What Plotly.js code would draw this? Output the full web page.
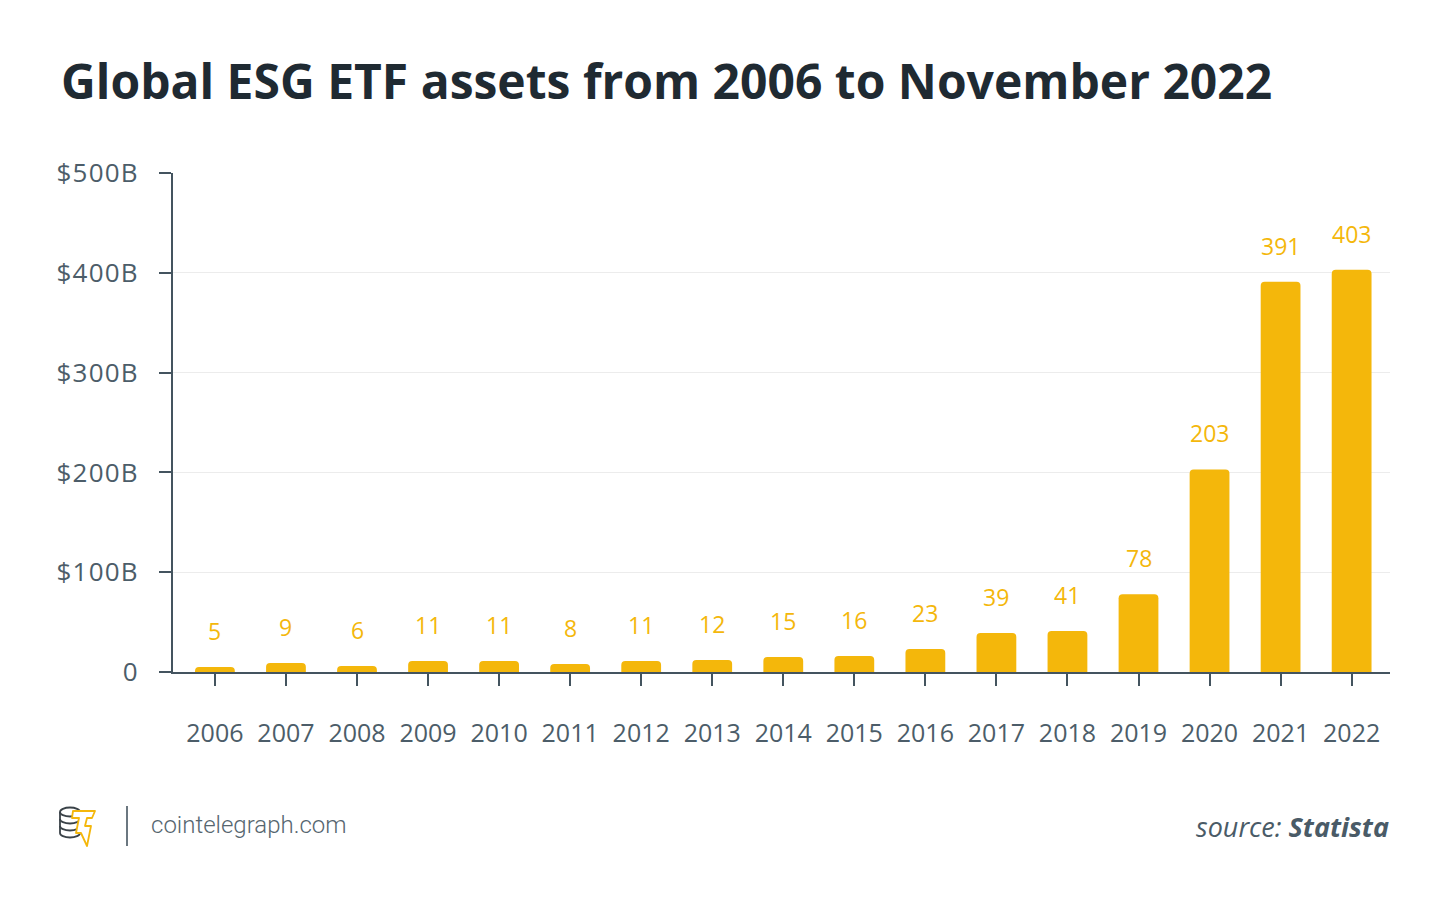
<!DOCTYPE html>
<html>
<head>
<meta charset="utf-8">
<script src="https://cdn.plot.ly/plotly-3.0.1.min.js"></script>
<style>
html,body{margin:0;padding:0;background:#fff;}
#chart{width:1450px;height:906px;}
#chart .ytick text{letter-spacing:1.2px;}
</style>
</head>
<body>
<div id="chart"></div>
<script>
const years = ["2006","2007","2008","2009","2010","2011","2012","2013","2014","2015","2016","2017","2018","2019","2020","2021","2022"];
const assets = [5,9,6,11,11,8,11,12,15,16,23,39,41,78,203,391,403];
const yTickVals = [0,100,200,300,400,500];
const yTickText = ["0","$100B","$200B","$300B","$400B","$500B"];

const W = 1450, H = 906;
const L = 173, R = 60, T = 173, B = 234;
const pw = W - L - R, ph = H - T - B;
const px = x => (x - L) / pw;
const py = y => (H - B - y) / ph;

const yellow = "#f4b70b";
const axisCol = "#44545f";
const textCol = "#4c5d69";

const trace = {
  type: "bar",
  x: years,
  y: assets,
  marker: {color: yellow, cornerradius: 4},
  hoverinfo: "skip"
};

const labels = years.map((yr, i) => ({
  x: i, y: assets[i], xref: "x", yref: "y",
  text: String(assets[i]), showarrow: false,
  yanchor: "bottom", yshift: 18,
  font: {family: "Open Sans", size: 23, color: yellow}
}));

const coinSvg = "<svg xmlns='http://www.w3.org/2000/svg' width='44' height='46' viewBox='0 0 44 46'>" +
 "<g fill='none' stroke='#3a4248' stroke-width='1.8'>" +
 "<ellipse cx='11' cy='9' rx='10' ry='4.5'/>" +
 "<path d='M1 9 v21 M21 9 v21'/>" +
 "<path d='M1 16 a10 4.5 0 0 0 20 0'/>" +
 "<path d='M1 23 a10 4.5 0 0 0 20 0'/>" +
 "<path d='M1 30 a10 4.5 0 0 0 20 0'/>" +
 "</g>" +
 "<path d='M14 8 L36 8 L33 15 L28 15 L26 23 L32 23 L28 43 L22 30 L17 30 L20 15 L13 15 Z' fill='#fff' stroke='" + yellow + "' stroke-width='1.8' stroke-linejoin='round'/>" +
 "</svg>";

const layout = {
  width: W, height: H,
  margin: {l: L, r: R, t: T, b: B},
  paper_bgcolor: "#fff", plot_bgcolor: "#fff",
  showlegend: false,
  bargap: 0.44,
  title: {
    text: "<b>Global ESG ETF assets from 2006 to November 2022</b>",
    font: {family: "Open Sans", size: 48, color: "#1f2a32"},
    x: 61 / W, xanchor: "left", xref: "container",
    y: 1 - 82 / H, yanchor: "middle", yref: "container"
  },
  xaxis: {
    type: "category",
    range: [-0.59, years.length - 0.46],
    showgrid: false,
    showline: true, linecolor: axisCol, linewidth: 2,
    ticks: "outside", ticklen: 12, tickwidth: 2, tickcolor: axisCol,
    ticklabelstandoff: 26,
    tickfont: {family: "Open Sans", size: 25, color: textCol},
    fixedrange: true
  },
  yaxis: {
    range: [0, 500],
    tickvals: yTickVals, ticktext: yTickText,
    showgrid: true, gridcolor: "#ececec", gridwidth: 1,
    zeroline: false,
    showline: true, linecolor: axisCol, linewidth: 2,
    ticks: "outside", ticklen: 12, tickwidth: 2, tickcolor: axisCol,
    ticklabelstandoff: 15,
    tickfont: {family: "Open Sans", size: 26, color: textCol},
    fixedrange: true
  },
  annotations: labels.concat([
    {
      xref: "paper", yref: "paper", x: px(149), y: py(825),
      xanchor: "left", yanchor: "middle", showarrow: false,
      text: "cointelegraph.com",
      font: {family: "Roboto", size: 24, weight: 300, color: "#56666f"}
    },
    {
      xref: "paper", yref: "paper", x: px(1391), y: py(826),
      xanchor: "right", yanchor: "middle", showarrow: false,
      text: "<i>source: </i><b><i>Statista</i></b>",
      font: {family: "Open Sans", size: 27, color: "#4a5b67"}
    }
  ]),
  shapes: [
    {type: "line", xref: "paper", yref: "paper",
     x0: px(127), x1: px(127), y0: py(806), y1: py(846),
     line: {color: "#6b7780", width: 2}}
  ],
  images: [
    {source: "data:image/svg+xml;charset=utf-8," + encodeURIComponent(coinSvg),
     xref: "paper", yref: "paper", x: px(59), y: py(803),
     sizex: 44 / pw, sizey: 46 / ph, xanchor: "left", yanchor: "top",
     sizing: "stretch", layer: "above"}
  ]
};

Plotly.newPlot("chart", [trace], layout, {displayModeBar: false, staticPlot: true});
</script>
</body>
</html>
